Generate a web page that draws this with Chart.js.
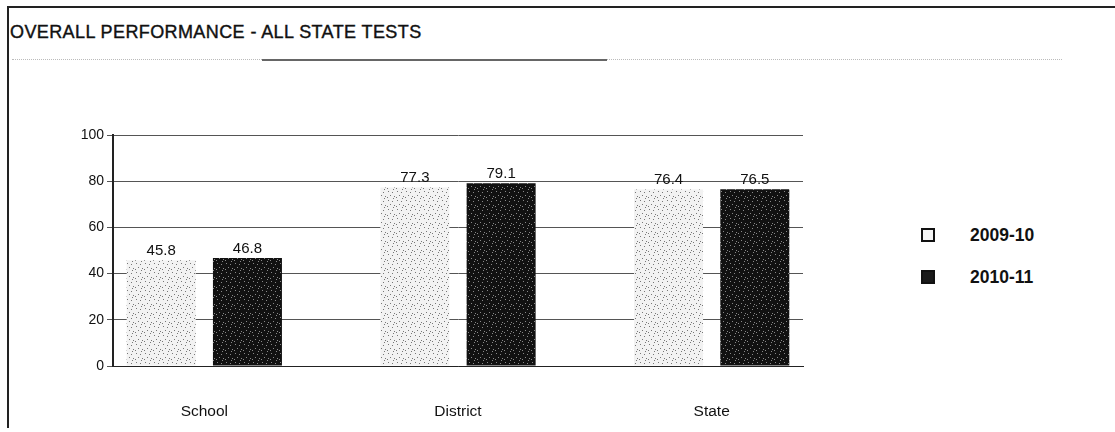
<!DOCTYPE html>
<html>
<head>
<meta charset="utf-8">
<script src="https://cdn.jsdelivr.net/npm/chart.js@4.4.1/dist/chart.umd.min.js"></script>
<style>
  body { margin: 0; background: #fff; width: 1115px; height: 432px; overflow: hidden; position: relative; font-family: "Liberation Sans", Arial, sans-serif; }
  #frame { position: absolute; left: 7px; top: 6px; width: 1110px; height: 420px; border-top: 2px solid #222; border-left: 2px solid #222; }
  #titulo { position: absolute; left: 10px; top: 22px; font-size: 18px; color: #111; letter-spacing: 0.4px; -webkit-text-stroke: 0.4px #111; }
  #linha { position: absolute; left: 262px; top: 59px; width: 345px; border-top: 2px solid #666; }
  #pontos { position: absolute; left: 12px; top: 59px; width: 1050px; border-top: 1px dotted #bbb; }
  #grafico { position: absolute; left: 0; top: 100px; }
  .leg { position: absolute; left: 921px; font-size: 17.5px; font-weight: bold; color: #111; }
  .leg span.caixa { position: absolute; left: 0; top: 3px; width: 14px; height: 14px; border: 2px solid #111; box-sizing: border-box; }
  .leg span.txt { position: absolute; left: 49px; top: 0; white-space: nowrap; }
</style>
</head>
<body>
<div id="frame"></div>
<div id="titulo">OVERALL PERFORMANCE - ALL STATE TESTS</div>
<div id="pontos"></div>
<div id="linha"></div>
<canvas id="grafico" width="900" height="330"></canvas>
<div class="leg" style="top:225px"><span class="caixa" style="background:#f4f4f4"></span><span class="txt">2009-10</span></div>
<div class="leg" style="top:267px"><span class="caixa" style="background:#1a1a1a"></span><span class="txt">2010-11</span></div>

<script>
// dados
const categorias = ['School', 'District', 'State']
const anos = ['2009-10', '2010-11']
const valores2009 = [45.8, 77.3, 76.4]
const valores2010 = [46.8, 79.1, 76.5]
const ticksY = [0, 20, 40, 60, 80, 100]

// textura pontilhada (efeito do scan)
function criarPadrao(fundo, ponto) {
    const c = document.createElement('canvas')
    c.width = 9
    c.height = 9
    const g = c.getContext('2d')
    g.fillStyle = fundo
    g.fillRect(0, 0, 9, 9)
    g.fillStyle = ponto
    const pts = [[1, 1], [5, 2], [3, 5], [7, 6], [0, 7], [6, 8]]
    pts.forEach(p => g.fillRect(p[0], p[1], 1, 1))
    return g.createPattern(c, 'repeat')
}

const rotulos = {
    id: 'rotulos',
    afterDatasetsDraw(chart) {
        const ctx = chart.ctx
        ctx.save()
        ctx.font = '15px "Liberation Sans", Arial, sans-serif'
        ctx.fillStyle = '#111'
        ctx.textAlign = 'center'
        ctx.textBaseline = 'bottom'
        chart.data.datasets.forEach((ds, i) => {
            chart.getDatasetMeta(i).data.forEach((bar, j) => {
                ctx.fillText(ds.data[j].y.toFixed(1), bar.x, bar.y - 2)
            })
        })
        ctx.restore()
    }
}

const ctx = document.getElementById('grafico').getContext('2d')

new Chart(ctx, {
    type: 'bar',
    data: {
        datasets: [{
            label: anos[0],
            data: valores2009.map((v, i) => ({ x: i, y: v })),
            backgroundColor: criarPadrao('#f2f2f2', '#777'),
            borderWidth: 0
        }, {
            label: anos[1],
            data: valores2010.map((v, i) => ({ x: i, y: v })),
            backgroundColor: criarPadrao('#111', '#888'),
            borderWidth: 0
        }]
    },
    options: {
        responsive: false,
        animation: false,
        categoryPercentage: 0.68,
        barPercentage: 0.8,
        layout: { padding: { top: 35, left: 0, right: 97, bottom: 0 } },
        plugins: {
            legend: { display: false },
            tooltip: { enabled: false }
        },
        scales: {
            x: {
                type: 'linear',
                offset: false,
                min: -0.36,
                max: 2.36,
                afterBuildTicks: scale => { scale.ticks = categorias.map((c, i) => ({ value: i })) },
                afterFit: scale => { scale.height = 64 },
                grid: { display: false },
                border: { display: true, color: '#222', width: 1 },
                ticks: {
                    padding: 28,
                    font: { size: 15.5, family: '"Liberation Sans", Arial, sans-serif' },
                    color: '#111',
                    callback: v => categorias[v]
                }
            },
            y: {
                min: 0,
                max: 100,
                afterBuildTicks: scale => { scale.ticks = ticksY.map(v => ({ value: v })) },
                afterFit: scale => { scale.width = 113 },
                grid: { color: '#555', lineWidth: 1, tickLength: 6, drawTicks: true },
                border: { display: true, color: '#222', width: 2 },
                ticks: {
                    padding: 3,
                    font: { size: 14, family: '"Liberation Sans", Arial, sans-serif' },
                    color: '#111'
                }
            }
        }
    },
    plugins: [rotulos]
})
</script>
</body>
</html>
